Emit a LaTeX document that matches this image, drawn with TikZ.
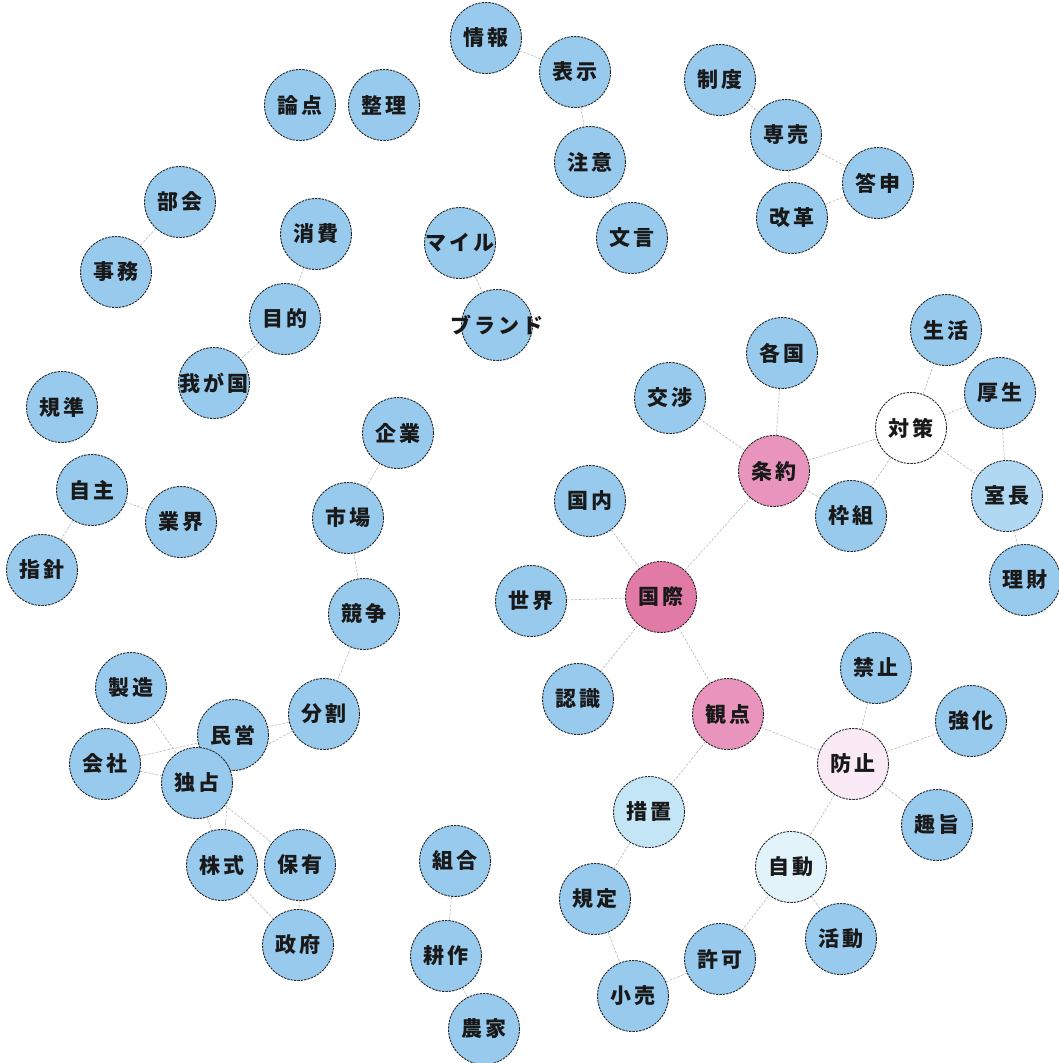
\documentclass[tikz,border=0pt]{standalone}
\usepackage{fontspec}
\newfontfamily\jpfont{Noto Sans CJK JP}[LetterSpace=15]
\definecolor{kwblue}{RGB}{152,202,238}
\definecolor{kwpinkA}{RGB}{226,122,166}
\definecolor{kwpinkB}{RGB}{232,148,188}
\definecolor{kwpinkC}{RGB}{249,234,246}
\definecolor{kwpale}{RGB}{196,229,246}
\definecolor{kwpaler}{RGB}{226,243,250}
\definecolor{kwmid}{RGB}{176,216,242}
\pgfdeclarelayer{bg}
\pgfsetlayers{bg,main}
\tikzset{
  kw/.style={circle, minimum size=71pt, inner sep=0pt, draw=black!85,
    line width=0.9pt, dash pattern=on 2.4pt off 1pt, fill=kwblue},
  lbl/.style={inner sep=0pt, text=black!90, font=\jpfont\bfseries\fontsize{21}{21}\selectfont},
  link/.style={draw=black!28, line width=0.6pt, dash pattern=on 2.5pt off 1.5pt},
}
\newcommand\kwn[4][]{\node[kw,#1] (#2) at (#3) {}; \node[lbl] (#2-t) at (#2.center) {#4};}
\begin{document}
\begin{tikzpicture}[x=1pt,y=-1pt]
\useasboundingbox (0,0) rectangle (1059,1063);
\begin{pgfonlayer}{bg}
\fill[white] (0,0) rectangle (1059,1063);
\end{pgfonlayer}
% top
\kwn{jouhou}{486,38}{情報}
\kwn{hyouji}{575,72}{表示}
\kwn{chuui}{590,162}{注意}
\kwn{mongon}{632,238}{文言}
\kwn{seido}{720,80}{制度}
\kwn{senbai}{786,135}{専売}
\kwn{toushin}{878,183}{答申}
\kwn{kaikaku}{792,218}{改革}
\kwn{ronten}{300,105}{論点}
\kwn{seiri}{384,105}{整理}
\kwn{bukai}{180,202}{部会}
\kwn{jimu}{116,272}{事務}
\kwn{shouhi}{316,234}{消費}
\kwn{mokuteki}{285,319}{目的}
\kwn{wagakuni}{214,383}{我が国}
\kwn{mile}{460,243}{マイル}
\kwn{brand}{497,325}{ブランド}
% left
\kwn{kijun}{62,407}{規準}
\kwn{jishu}{92,490}{自主}
\kwn{gyoukai}{181,522}{業界}
\kwn{shishin}{42,570}{指針}
\kwn{kigyou}{398,433}{企業}
\kwn{shijou}{348,518}{市場}
\kwn{kyousou}{364,614}{競争}
\kwn{bunkatsu}{324,714}{分割}
\kwn{seizou}{131,688}{製造}
\kwn{minei}{233,735}{民営}
\kwn{kaisha}{105,764}{会社}
\kwn{dokusen}{197,783}{独占}
\kwn{kabushiki}{222,865}{株式}
\kwn{hoyuu}{300,865}{保有}
\kwn{seifu}{298,945}{政府}
\kwn{kumiai}{455,861}{組合}
\kwn{kousaku}{446,956}{耕作}
\kwn{nouka}{484,1029}{農家}
% right
\kwn{kakkoku}{782,353}{各国}
\kwn{koushou}{670,398}{交渉}
\kwn[fill=kwpinkB]{jouyaku}{774,471}{条約}
\kwn{wakugumi}{851,516}{枠組}
\kwn[fill=white]{taisaku}{911,428}{対策}
\kwn{seikatsu}{946,330}{生活}
\kwn{kousei}{1000,393}{厚生}
\kwn[fill=kwmid]{shitsuchou}{1007,496}{室長}
\kwn{rizai}{1025,580}{理財}
\kwn{kokunai}{590,501}{国内}
\kwn{sekai}{531,601}{世界}
\kwn[fill=kwpinkA]{kokusai}{661,597}{国際}
\kwn{ninshiki}{578,699}{認識}
\kwn[fill=kwpinkB]{kanten}{728,714}{観点}
\kwn{kinshi}{876,668}{禁止}
\kwn{kyouka}{971,721}{強化}
\kwn[fill=kwpinkC]{boushi}{853,764}{防止}
\kwn{shushi}{937,825}{趣旨}
\kwn[fill=kwpale]{sochi}{649,812}{措置}
\kwn[fill=kwpaler]{jidou}{791,867}{自動}
\kwn{kitei}{595,899}{規定}
\kwn{katsudou}{841,939}{活動}
\kwn{kyoka}{720,959}{許可}
\kwn{kouri}{633,996}{小売}
\begin{pgfonlayer}{bg}
\foreach \a/\b in {jouhou/hyouji, hyouji/chuui, chuui/mongon, seido/senbai,
  senbai/toushin, senbai/kaikaku, kaikaku/toushin, bukai/jimu, shouhi/mokuteki,
  mokuteki/wagakuni, mile/brand, jishu/gyoukai, jishu/shishin, kigyou/shijou,
  shijou/kyousou, kyousou/bunkatsu, bunkatsu/minei, bunkatsu/dokusen,
  seizou/dokusen, kaisha/minei, kaisha/dokusen, dokusen/kabushiki,
  minei/kabushiki, dokusen/hoyuu, kabushiki/seifu, hoyuu/seifu,
  kumiai/kousaku, kousaku/nouka, kokunai/kokusai, sekai/kokusai,
  ninshiki/kokusai, kokusai/kanten, kokusai/jouyaku, koushou/jouyaku,
  kakkoku/jouyaku, jouyaku/wakugumi, jouyaku/taisaku, taisaku/seikatsu,
  taisaku/kousei, taisaku/shitsuchou, taisaku/wakugumi, kousei/shitsuchou,
  shitsuchou/rizai, kanten/boushi, kanten/sochi, boushi/kinshi,
  boushi/kyouka, boushi/shushi, boushi/jidou, sochi/kitei, kitei/kouri,
  kouri/kyoka, kyoka/jidou, jidou/katsudou}
  \draw[link] (\a.center) -- (\b.center);
\end{pgfonlayer}
\end{tikzpicture}
\end{document}
